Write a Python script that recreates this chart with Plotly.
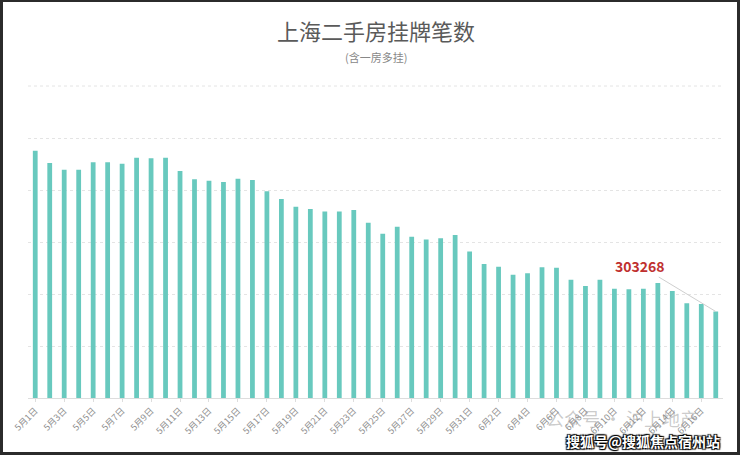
import plotly.graph_objects as go

# daily listing counts, 5/1 - 6/17
dates = [f"5月{d}日" for d in range(1, 32)] + [f"6月{d}日" for d in range(1, 18)]
listings = [
    365100, 360400, 357800, 357800, 360650, 360650, 360100, 362400, 362200, 362400,
    357300, 354100, 353600, 353100, 354300, 353800, 349500, 346500, 343600, 342700,
    341700, 341700, 342300, 337400, 333200, 335900, 332000, 331000, 331400, 332700,
    326300, 321500, 320500, 317400, 318000, 320300, 320100, 315500, 313100, 315500,
    312000, 311800, 312000, 314200, 311200, 306400, 306200, 303268,
]
tick_dates = dates[::2]

W, H = 740, 455
ML, MR, MT, MB = 28, 17, 86, 57
pw, ph = W - ML - MR, H - MT - MB


def px_x(x):
    return (x - ML) / pw


def px_y(y):
    return (H - MB - y) / ph


fig = go.Figure()
fig.add_trace(go.Bar(x=dates, y=listings, marker_color="#68c9be", marker_line_width=0))

fig.add_annotation(
    x=dates[-1], y=listings[-1], text=f"<b>{listings[-1]}</b>",
    showarrow=True, arrowhead=0, arrowwidth=1, arrowcolor="#cfcfcf",
    ax=-76, ay=-46, font=dict(size=14, color="#c0302f"),
)

# title + subtitle
fig.add_annotation(x=0.5, y=px_y(30), xref="paper", yref="paper", showarrow=False,
                   xanchor="center", yanchor="middle",
                   text="上海二手房挂牌笔数", font=dict(size=22, color="#5a5a5a"))
fig.add_annotation(x=0.5, y=px_y(57), xref="paper", yref="paper", showarrow=False,
                   xanchor="center", yanchor="middle",
                   text="(含一房多挂)", font=dict(size=11, color="#888888"))

# watermarks
fig.add_annotation(x=px_x(622), y=px_y(418), xref="paper", yref="paper", showarrow=False,
                   xanchor="center", yanchor="middle",
                   text="公众号 · 沪上地产", font=dict(size=18, color="rgba(140,140,140,0.45)"))
fig.add_annotation(x=px_x(643), y=px_y(441), xref="paper", yref="paper", showarrow=False,
                   xanchor="center", yanchor="middle",
                   text="<b>搜狐号@搜狐焦点宿州站</b>",
                   font=dict(size=14, color="white",
                             shadow="1px 1px 1px #000, -1px -1px 1px #000, 1px -1px 1px #000, -1px 1px 1px #000"))

# top grid line (edge of range is not drawn by plotly)
fig.add_shape(type="line", xref="paper", yref="paper", x0=0, x1=1, y0=1, y1=1,
              line=dict(color="#e4e4e4", width=1, dash="dot"))

# outer frame
fig.add_shape(type="rect", xref="paper", yref="paper",
              x0=px_x(1.5), x1=px_x(W - 1.5),
              y0=px_y(H - 1.5), y1=px_y(0.5),
              line=dict(color="#2b2b2b", width=3))

fig.update_layout(
    width=W, height=H,
    margin=dict(l=ML, r=MR, t=MT, b=MB),
    paper_bgcolor="white", plot_bgcolor="white",
    font=dict(family="Noto Sans CJK SC"),
    showlegend=False,
    bargap=0.67,
)
fig.update_xaxes(
    type="category", tickmode="array", tickvals=tick_dates, ticktext=tick_dates,
    tickangle=-45, tickfont=dict(size=9, color="#8f8f8f"),
    showline=True, linecolor="#dddddd", linewidth=1, showgrid=False,
    ticks="outside", ticklen=3, tickcolor="#dddddd",
    automargin=False,
)
fig.update_yaxes(
    range=[270000, 390000], tick0=270000, dtick=20000, showticklabels=False,
    showgrid=True, gridcolor="#e4e4e4", griddash="dot", gridwidth=1,
    zeroline=False,
)

fig.write_html("out.html", config={"displayModeBar": False},
               post_script="document.body.style.margin='0';")
